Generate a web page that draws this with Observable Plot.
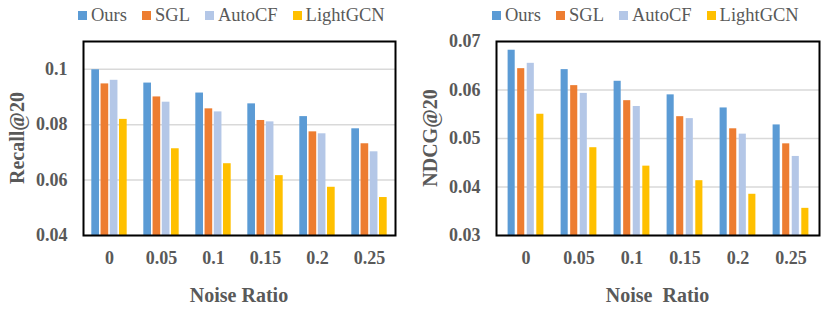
<!DOCTYPE html>
<html>
<head>
<meta charset="utf-8">
<script src="https://cdn.jsdelivr.net/npm/d3@7"></script>
<script src="https://cdn.jsdelivr.net/npm/@observablehq/plot@0.6"></script>
<style>
  html, body { margin: 0; padding: 0; background: #fff; }
  #wrap { position: relative; width: 831px; height: 311px; overflow: hidden;
          font-family: "Liberation Serif", "Times New Roman", serif; color: #595959; }
  .panel { position: absolute; top: 0; height: 311px; }
  .legend { height: 30px; display: flex; align-items: center; font-size: 18.5px; line-height: 1; white-space: nowrap; }
  .legend .item { display: flex; align-items: center; margin-right: 15px; }
  .legend .sw { width: 9px; height: 9px; margin-right: 4px; margin-top: 1px; }
  .ytitle { position: absolute; font-weight: bold; font-size: 20px; white-space: pre;
            transform: translate(-50%, -50%) rotate(-90deg); line-height: 1; }
  .xtitle { position: absolute; font-weight: bold; font-size: 20px; white-space: pre;
            transform: translate(-50%, -50%); line-height: 1; }
  svg { display: block; }
</style>
</head>
<body>
<div id="wrap"></div>
<script>
const ratios = ["0", "0.05", "0.1", "0.15", "0.2", "0.25"];
const methods = ["Ours", "SGL", "AutoCF", "LightGCN"];
const colors = ["#5B9BD5", "#ED7D31", "#B4C7E7", "#FFC000"];

const recallOurs     = [0.0998, 0.0950, 0.0914, 0.0875, 0.0829, 0.0785];
const recallSGL      = [0.0947, 0.0900, 0.0857, 0.0815, 0.0774, 0.0731];
const recallAutoCF   = [0.0960, 0.0881, 0.0846, 0.0810, 0.0767, 0.0702];
const recallLightGCN = [0.0819, 0.0713, 0.0659, 0.0616, 0.0574, 0.0537];

const ndcgOurs     = [0.0682, 0.0642, 0.0618, 0.0590, 0.0563, 0.0528];
const ndcgSGL      = [0.0644, 0.0609, 0.0578, 0.0545, 0.0520, 0.0489];
const ndcgAutoCF   = [0.0655, 0.0593, 0.0566, 0.0541, 0.0509, 0.0463];
const ndcgLightGCN = [0.0550, 0.0481, 0.0443, 0.0413, 0.0385, 0.0356];

const recallTicks = [0.04, 0.06, 0.08, 0.1];
const ndcgTicks = [0.03, 0.04, 0.05, 0.06, 0.07];

function makePanel({left, width, ml, mr, series, yDomain, yTicks, yTitle, xTitle, legendLeft, yTitleX}) {
  const panel = document.createElement("div");
  panel.className = "panel";
  panel.style.left = left + "px";
  panel.style.width = width + "px";

  const legend = document.createElement("div");
  legend.className = "legend";
  legend.style.paddingLeft = legendLeft + "px";
  methods.forEach((m, j) => {
    const it = document.createElement("div");
    it.className = "item";
    const sw = document.createElement("span");
    sw.className = "sw";
    sw.style.background = colors[j];
    const tx = document.createElement("span");
    tx.textContent = m;
    it.append(sw, tx);
    legend.append(it);
  });
  panel.append(legend);

  // sub-band for the four methods inside each noise-ratio band
  const band = (width - ml - mr) / ratios.length;
  const sub = d3.scaleBand(methods, [0, band]).paddingInner(0.17).paddingOuter(0.9);

  const barMarks = methods.map((m, j) => {
    const rows = ratios.map((r, i) => ({ratio: r, method: m, value: series[j][i]}));
    const il = sub(m);
    const ir = band - sub(m) - sub.bandwidth();
    return Plot.barY(rows, {x: "ratio", y1: yDomain[0], y2: "value", fill: colors[j], insetLeft: il, insetRight: ir});
  });

  const plot = Plot.plot({
    width, height: 281,
    marginTop: 11, marginBottom: 76, marginLeft: ml, marginRight: mr,
    style: {fontFamily: '"Liberation Serif", "Times New Roman", serif', color: "#595959", background: "transparent", overflow: "visible"},
    x: {domain: ratios, padding: 0, label: null, axis: null},
    y: {domain: yDomain, label: null, axis: null},
    marks: [
      Plot.gridY(yTicks, {stroke: "#d9d9d9", strokeOpacity: 1, strokeWidth: 1.5}),
      ...barMarks,
      Plot.frame({stroke: "#000", strokeWidth: 2}),
      Plot.axisY(yTicks, {tickSize: 0, tickPadding: 16, fontSize: 18, fontWeight: "bold", label: null, tickFormat: d => String(d)}),
      Plot.axisX({anchor: "bottom", tickSize: 0, tickPadding: 16, fontSize: 18, fontWeight: "bold", label: null})
    ]
  });
  panel.append(plot);

  const ys = plot.scale("y");
  const xs = plot.scale("x");
  const x0 = Math.min(...xs.range), x1 = Math.max(...xs.range);
  const y0 = Math.min(...ys.range), y1 = Math.max(...ys.range);

  const yt = document.createElement("div");
  yt.className = "ytitle";
  yt.textContent = yTitle;
  yt.style.left = yTitleX + "px";
  yt.style.top = (30 + (y0 + y1) / 2) + "px";
  panel.append(yt);

  const xt = document.createElement("div");
  xt.className = "xtitle";
  xt.textContent = xTitle;
  xt.style.left = ((x0 + x1) / 2) + "px";
  xt.style.top = "295px";
  panel.append(xt);

  document.getElementById("wrap").append(panel);
}

makePanel({left: 0, width: 415, ml: 83, mr: 20,
  series: [recallOurs, recallSGL, recallAutoCF, recallLightGCN],
  yDomain: [0.04, 0.11], yTicks: recallTicks, yTitle: "Recall@20", xTitle: "Noise Ratio",
  legendLeft: 78, yTitleX: 17});

makePanel({left: 415, width: 416, ml: 81, mr: 12,
  series: [ndcgOurs, ndcgSGL, ndcgAutoCF, ndcgLightGCN],
  yDomain: [0.03, 0.07], yTicks: ndcgTicks, yTitle: "NDCG@20", xTitle: "Noise  Ratio",
  legendLeft: 77, yTitleX: 15});
</script>
</body>
</html>
